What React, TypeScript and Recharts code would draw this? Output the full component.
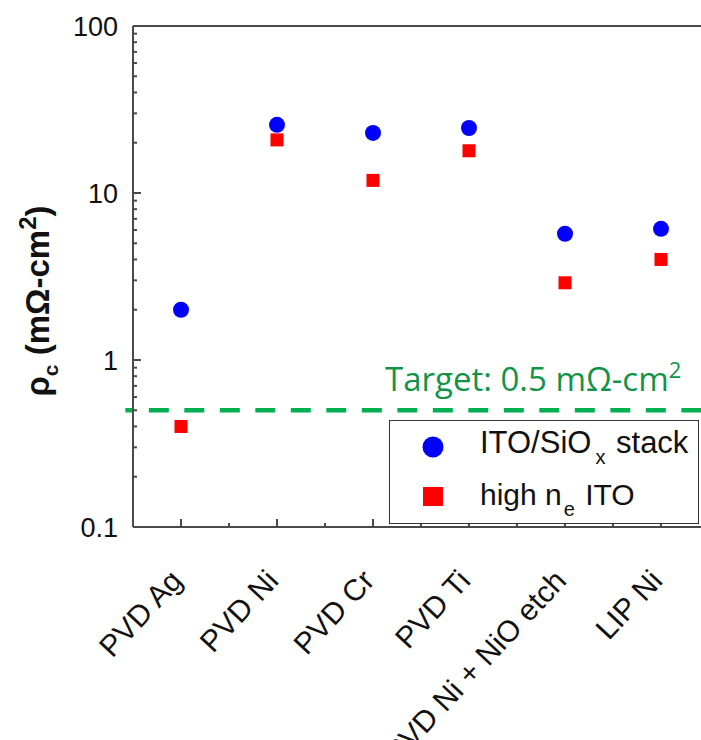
import { ScatterChart, Scatter, XAxis, YAxis, ReferenceLine, Legend } from 'recharts';

const categories = ['PVD Ag', 'PVD Ni', 'PVD Cr', 'PVD Ti', 'PVD Ni + NiO etch', 'LIP Ni'];
const itoSiOxStack = [2.0, 25.6, 22.9, 24.5, 5.7, 6.1];
const highNeIto = [0.4, 20.8, 11.9, 17.9, 2.9, 4.0];
const targetValue = 0.5;

const yMajorTicks = [0.1, 1, 10, 100];
const yMinorTicks = [0.2, 0.3, 0.4, 0.5, 0.6, 0.7, 0.8, 0.9, 2, 3, 4, 5, 6, 7, 8, 9, 20, 30, 40, 50, 60, 70, 80, 90];
const xMajorTicks = [1, 2, 3, 4, 5, 6];
const xMinorTicks = [1.5, 2.5, 3.5, 4.5, 5.5, 6.5];

const FONT = '"Liberation Sans", Arial, sans-serif';
const AXIS = '#4a4a4a';
const INK = '#111111';
const BLUE = '#0000FF';
const RED = '#FF0000';
const GREEN = '#00B050';
const GREEN_TEXT = '#119447';

const stackData = categories.map((name, i) => ({ name, x: i + 1, y: itoSiOxStack[i] }));
const highNeData = categories.map((name, i) => ({ name, x: i + 1, y: highNeIto[i] }));
const xTicks = [...xMajorTicks, ...xMinorTicks].sort((a, b) => a - b);
const yTicks = [...yMajorTicks, ...yMinorTicks].sort((a, b) => a - b);
const isMajorY = (v: number) => yMajorTicks.includes(v);

function BottomTick({ x, y, payload }: any) {
  const v = payload.value as number;
  const major = Number.isInteger(v);
  return (
    <g>
      <line x1={x} y1={y} x2={x} y2={y - (major ? 8 : 4)} stroke={AXIS} strokeWidth={2} />
      {major && (
        <text
          transform={`translate(${x + 3},${y + 55}) rotate(-47)`}
          textAnchor="end"
          fontFamily={FONT}
          fontSize={30}
          fill={INK}
        >
          {categories[v - 1]}
        </text>
      )}
    </g>
  );
}

function TopTick({ x, y, payload }: any) {
  const major = Number.isInteger(payload.value);
  return <line x1={x} y1={y} x2={x} y2={y + (major ? 8 : 4)} stroke={AXIS} strokeWidth={2} />;
}

function LeftTick({ x, y, payload }: any) {
  const v = payload.value as number;
  const major = isMajorY(v);
  return (
    <g>
      <line x1={x} y1={y} x2={x + (major ? 8 : 4)} y2={y} stroke={AXIS} strokeWidth={2} />
      {major && (
        <text x={x - 15} y={y} dy="0.36em" textAnchor="end" fontFamily={FONT} fontSize={27} fill={INK}>
          {String(v)}
        </text>
      )}
    </g>
  );
}

function RightTick({ x, y, payload }: any) {
  const major = isMajorY(payload.value);
  return <line x1={x} y1={y} x2={x - (major ? 8 : 4)} y2={y} stroke={AXIS} strokeWidth={2} />;
}

function YTitle() {
  return (
    <text
      transform="translate(49,301) rotate(-90)"
      textAnchor="middle"
      fontFamily={FONT}
      fontWeight="bold"
      fontSize={33}
      fill={INK}
    >
      ρ
      <tspan fontSize={21} dy={9}>c</tspan>
      <tspan dy={-9}> (mΩ-cm</tspan>
      <tspan fontSize={24} dy={-13}>2</tspan>
      <tspan dy={13}>)</tspan>
    </text>
  );
}

function TargetLabel({ viewBox }: any) {
  const y = (viewBox?.y ?? 410) - 19;
  return (
    <text x={385} y={y} fontFamily='"Open Sans", sans-serif' fontSize={33} fill={GREEN_TEXT}>
      Target: {targetValue} mΩ-cm
      <tspan fontSize={22} dy={-13}>2</tspan>
    </text>
  );
}

function LegendBox() {
  return (
    <div
      style={{
        width: 310, height: 104, boxSizing: 'border-box', border: `1.5px solid #333`,
        background: '#fff', position: 'relative',
      }}
    >
      <svg width={310} height={104} style={{ position: 'absolute', left: -1.5, top: -1.5 }}>
        <circle cx={44} cy={27} r={10.5} fill={BLUE} />
        <rect x={34} y={67} width={20} height={19} fill={RED} />
        <text x={91} y={33} fontFamily={FONT} fontSize={31} fill={INK}>
          ITO/SiO
          <tspan fontSize={20} dx={4} dy={11}>x</tspan>
          <tspan dy={-11} dx={2}> stack</tspan>
        </text>
        <text x={91} y={85} fontFamily={FONT} fontSize={30} fill={INK}>
          high n
          <tspan fontSize={20} dx={2} dy={11}>e</tspan>
          <tspan dy={-11} dx={2}> ITO</tspan>
        </text>
      </svg>
    </div>
  );
}

export default function App() {
  return (
    <div style={{ position: 'absolute', left: 0, top: 0, width: 701, height: 740, overflow: 'hidden', background: '#fff' }}>
      <ScatterChart width={760} height={740} margin={{ top: 25, right: 50, bottom: 212, left: 132 }}>
        <XAxis
          xAxisId="bottom"
          type="number"
          dataKey="x"
          domain={[0.5, 6.5]}
          allowDataOverflow
          ticks={xTicks}
          interval={0}
          height={1}
          tickSize={0}
          tickMargin={0}
          tickLine={false}
          axisLine={{ stroke: AXIS, strokeWidth: 2 }}
          tick={BottomTick}
        />
        <XAxis
          xAxisId="top"
          orientation="top"
          type="number"
          domain={[0.5, 6.5]}
          allowDataOverflow
          ticks={xTicks}
          interval={0}
          height={1}
          tickSize={0}
          tickMargin={0}
          tickLine={false}
          axisLine={{ stroke: AXIS, strokeWidth: 2 }}
          tick={TopTick}
        />
        <YAxis
          yAxisId="left"
          type="number"
          dataKey="y"
          scale="log"
          domain={[0.1, 100]}
          allowDataOverflow
          ticks={yTicks}
          interval={0}
          width={1}
          tickSize={0}
          tickMargin={0}
          tickLine={false}
          axisLine={{ stroke: AXIS, strokeWidth: 2 }}
          tick={LeftTick}
          label={<YTitle />}
        />
        <YAxis
          yAxisId="right"
          orientation="right"
          type="number"
          scale="log"
          domain={[0.1, 100]}
          allowDataOverflow
          ticks={yTicks}
          interval={0}
          width={1}
          tickSize={0}
          tickMargin={0}
          tickLine={false}
          axisLine={{ stroke: AXIS, strokeWidth: 2 }}
          tick={RightTick}
        />
        <ReferenceLine
          xAxisId="bottom"
          yAxisId="left"
          segment={[{ x: 0.42, y: targetValue }, { x: 7, y: targetValue }]}
          ifOverflow="visible"
          stroke={GREEN}
          strokeWidth={4.5}
          strokeDasharray="20 15.5"
          strokeDashoffset={12}
          label={(p: any) => <TargetLabel {...p} />}
        />
        <Scatter
          name="ITO/SiOx stack"
          data={stackData}
          xAxisId="bottom"
          yAxisId="left"
          isAnimationActive={false}
          shape={(p: any) => <circle cx={p.cx} cy={p.cy} r={8} fill={BLUE} />}
        />
        <Scatter
          name="high ne ITO"
          data={highNeData}
          xAxisId="bottom"
          yAxisId="left"
          isAnimationActive={false}
          shape={(p: any) => <rect x={p.cx - 6.5} y={p.cy - 6.5} width={13} height={13} fill={RED} />}
        />
        <Legend
          layout="horizontal"
          verticalAlign="middle"
          align="center"
          wrapperStyle={{ position: 'absolute', left: 389, top: 420, width: 310, height: 104 }}
          content={() => <LegendBox />}
        />
      </ScatterChart>
    </div>
  );
}
